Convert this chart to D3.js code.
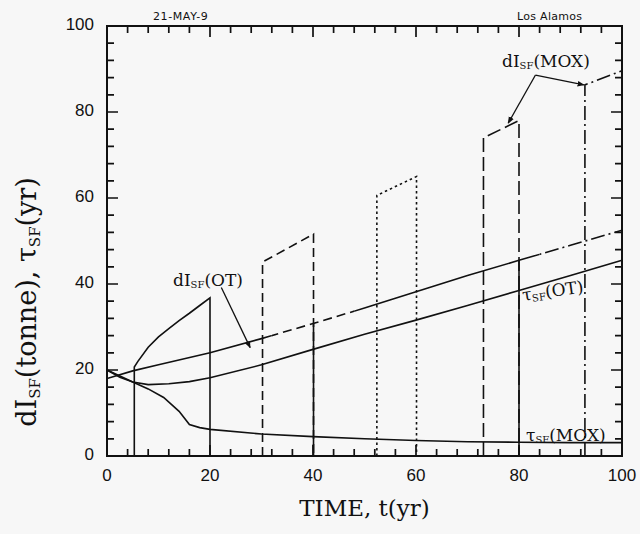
<!DOCTYPE html>
<html>
<head>
<meta charset="utf-8">
<script src="https://cdn.jsdelivr.net/npm/d3@7"></script>
<style>
  body { margin: 0; background: #f7f7f7; }
  svg { display: block; }
</style>
</head>
<body>
<div id="chart"></div>
<script>
// values
var xTicks = [0, 20, 40, 60, 80, 100];
var yTicks = [0, 20, 40, 60, 80, 100];

// tau_SF(OT): solid rising curve
var tauOT = [[0, 20], [2.5, 18.3], [5, 17.2], [8, 16.6], [12, 16.8], [16, 17.3], [20, 18.2],
  [30, 21.2], [40, 24.8], [50, 28.3], [60, 31.6], [70, 35], [80, 38.5], [90, 42], [100, 45.5]];

// tau_SF(MOX): decaying curve
var tauMOX = [[0, 20], [2.5, 18.6], [5, 17.2], [8, 15.6], [11, 13.6], [14, 10.4], [16, 7.3],
  [18, 6.6], [20, 6.2], [30, 5.1], [40, 4.5], [50, 4.0], [60, 3.6], [70, 3.3], [80, 3.2],
  [90, 3.1], [100, 3.1]];

// upper rising curve (inventory at reload)
var upper = [[0, 18], [5, 19.8], [10, 21.2], [20, 24], [30, 27.3], [40, 30.8], [50, 34.4],
  [60, 38.2], [70, 42], [80, 45.5], [90, 49], [100, 52.5]];

// dI_SF sawtooth cycles
var cycleOT = [[5.3, 0], [5.3, 20.7], [6, 22], [8, 25.3], [10, 27.7], [12, 29.6], [14, 31.5],
  [16, 33.2], [18, 35], [20, 36.8], [20, 0]];
var cycle2 = [[30.2, 0], [30.2, 45.1], [40.1, 51.6], [40.1, 0]];
var cycle3 = [[52.4, 0], [52.4, 60.6], [60.1, 65], [60.1, 0]];
var cycle4 = [[73.1, 0], [73.1, 74], [80, 78], [80, 0]];
var cycle5 = [[92.8, 0], [92.8, 86.3], [100, 89.6]];

// solid drops under the upper curve
var drops = [[[40.1, 30.8], [40.1, 0]], [[80, 45.5], [80, 0]]];

var W = 640, H = 534;
var x = d3.scaleLinear().domain([0, 100]).range([107, 622]);
var y = d3.scaleLinear().domain([0, 100]).range([456, 26]);

var svg = d3.select('#chart').append('svg')
  .attr('width', W)
  .attr('height', H);

var line = d3.line()
  .x(function (d) { return x(d[0]); })
  .y(function (d) { return y(d[1]); });

// tick marks pointing into the frame, one path for all four sides
var minor = d3.range(0, 101, 4).filter(function (v) { return v % 20 !== 0; });
var ticks = xTicks.map(function (v) { return { v: v, len: 11 }; })
  .concat(minor.map(function (v) { return { v: v, len: 7 }; }));

var tickPath = d3.path();
ticks.forEach(function (d) {
  var px = x(d.v), py = y(d.v);
  tickPath.moveTo(px, y(0)); tickPath.lineTo(px, y(0) - d.len);
  tickPath.moveTo(px, y(100)); tickPath.lineTo(px, y(100) + d.len);
  tickPath.moveTo(x(0), py); tickPath.lineTo(x(0) + d.len, py);
  tickPath.moveTo(x(100), py); tickPath.lineTo(x(100) - d.len, py);
});
svg.append('path')
  .attr('class', 'ticks')
  .attr('d', tickPath.toString())
  .attr('fill', 'none')
  .attr('stroke', '#111')
  .attr('stroke-width', 1.7);

// clip strips for the styled pieces of the upper curve
var upperPieces = [
  { from: 0, to: 32, dash: null },
  { from: 32, to: 48, dash: '9,5' },
  { from: 48, to: 84, dash: null },
  { from: 84, to: 100, dash: '14,4,2,4' }
];
var defs = svg.append('defs');
upperPieces.forEach(function (p, i) {
  defs.append('clipPath').attr('id', 'clip' + i)
    .append('rect')
    .attr('x', x(p.from))
    .attr('y', 0)
    .attr('width', x(p.to) - x(p.from))
    .attr('height', H);
});
defs.append('marker')
  .attr('id', 'arrow')
  .attr('viewBox', '0 0 10 10')
  .attr('refX', 9)
  .attr('refY', 5)
  .attr('markerWidth', 7)
  .attr('markerHeight', 7)
  .attr('markerUnits', 'userSpaceOnUse')
  .attr('orient', 'auto')
  .append('path')
  .attr('d', 'M0,1L10,5L0,9Z')
  .attr('fill', '#111');

var g = svg.append('g')
  .attr('fill', 'none')
  .attr('stroke', '#111')
  .attr('stroke-width', 1.6);

g.append('path').attr('d', line(tauOT));
g.append('path').attr('d', line(tauMOX));

upperPieces.forEach(function (p, i) {
  g.append('path')
    .attr('d', line(upper))
    .attr('clip-path', 'url(#clip' + i + ')')
    .attr('stroke-dasharray', p.dash);
});

g.append('path').attr('d', line(cycleOT));
g.append('path').attr('d', line(cycle2)).attr('stroke-dasharray', '9,5');
g.append('path').attr('d', line(cycle3)).attr('stroke-dasharray', '2.5,3');
g.append('path').attr('d', line(cycle4)).attr('stroke-dasharray', '14,5');
g.append('path').attr('d', line(cycle5)).attr('stroke-dasharray', '14,4,2,4');
drops.forEach(function (d) {
  g.append('path').attr('d', line(d));
});

var sans = 'Liberation Sans, Arial, sans-serif';
svg.selectAll('.xl').data(xTicks).enter().append('text')
  .attr('x', function (d) { return x(d); })
  .attr('y', 481)
  .attr('text-anchor', 'middle')
  .style('font-family', sans)
  .style('font-size', '17px')
  .attr('fill', '#111')
  .text(function (d) { return d; });
svg.selectAll('.yl').data(yTicks).enter().append('text')
  .attr('x', 94)
  .attr('y', function (d) { return y(d) + 4; })
  .attr('text-anchor', 'end')
  .style('font-family', sans)
  .style('font-size', '17px')
  .attr('fill', '#111')
  .text(function (d) { return d; });

svg.append('rect')
  .attr('x', x(0))
  .attr('y', y(100))
  .attr('width', x(100) - x(0))
  .attr('height', y(0) - y(100))
  .attr('fill', 'none')
  .attr('stroke', '#111')
  .attr('stroke-width', 2);

// titles
var serif = 'DejaVu Serif, Liberation Serif, serif';
svg.append('text')
  .attr('x', (x(0) + x(100)) / 2)
  .attr('y', 516)
  .attr('text-anchor', 'middle')
  .style('font-family', serif)
  .style('font-size', '23px')
  .attr('fill', '#111')
  .text('TIME, t(yr)');

var yt = svg.append('text')
  .attr('transform', 'translate(36,302) rotate(-90)')
  .attr('text-anchor', 'middle')
  .style('font-family', serif)
  .style('font-size', '27px')
  .attr('fill', '#111');
yt.append('tspan').text('dI');
yt.append('tspan').text('SF').style('font-size', '15px').attr('dy', 4);
yt.append('tspan').text('(tonne), τ').attr('dy', -4);
yt.append('tspan').text('SF').style('font-size', '15px').attr('dy', 4);
yt.append('tspan').text('(yr)').attr('dy', -4);

function subLabel(px, py, main, tail, size, rot) {
  var t = svg.append('text')
    .attr('transform', 'translate(' + px + ',' + py + ')' + (rot ? ' rotate(' + rot + ')' : ''))
    .style('font-family', serif)
    .style('font-size', size + 'px')
    .attr('fill', '#111');
  t.append('tspan').text(main);
  t.append('tspan').text('SF').style('font-size', Math.round(size * 0.6) + 'px').attr('dy', 2);
  t.append('tspan').text(tail).attr('dy', -2);
  return t;
}

subLabel(173, 286, 'dI', '(OT)', 17, 0);
subLabel(502, 67, 'dI', '(MOX)', 17, 0);
subLabel(523, 301, 'τ', '(OT)', 17, -8);
subLabel(526, 441, 'τ', '(MOX)', 17, 0);

// leader lines
var leaders = [
  [[22.2, 39.2], [27.8, 25.2]],
  [[83.2, 88.6], [77.9, 77.4]],
  [[83.2, 88.6], [92.6, 86.3]]
];
leaders.forEach(function (d) {
  svg.append('path')
    .attr('d', line(d))
    .attr('fill', 'none')
    .attr('stroke', '#111')
    .attr('stroke-width', 1.3)
    .attr('marker-end', 'url(#arrow)');
});

// header stamps
svg.append('text')
  .attr('x', 153).attr('y', 20)
  .style('font-family', 'DejaVu Sans, sans-serif')
  .style('font-size', '11px')
  .style('letter-spacing', '0.6px')
  .attr('fill', '#111')
  .text('21-MAY-9');
svg.append('text')
  .attr('x', 517).attr('y', 20)
  .style('font-family', 'DejaVu Sans, sans-serif')
  .style('font-size', '11px')
  .style('letter-spacing', '0.3px')
  .attr('fill', '#111')
  .text('Los Alamos');
</script>
</body>
</html>
